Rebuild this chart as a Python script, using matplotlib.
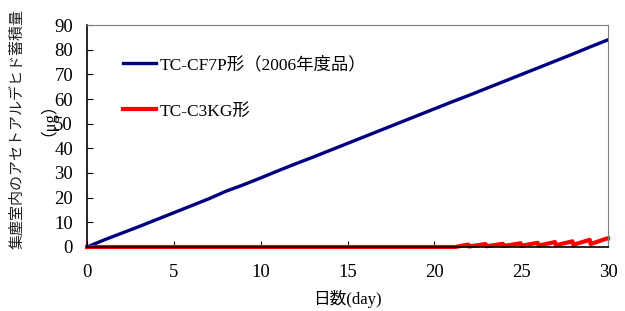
import matplotlib
matplotlib.use("Agg")
import matplotlib.pyplot as plt

plt.rcParams['font.family'] = ['Liberation Serif', 'Noto Sans CJK JP']

# TC-CF7P (2006) accumulated acetaldehyde, read per day
days_a = list(range(0, 31))
vals_a = [0, 2.9, 5.6, 8.3, 11.1, 13.9, 16.7, 19.5, 22.6, 25.2,
          28.0, 30.9, 33.7, 36.4, 39.2, 42.0, 44.8, 47.6, 50.4, 53.2,
          56.0, 58.8, 61.5, 64.3, 67.1, 69.9, 72.7, 75.5, 78.3, 81.2, 84.0]

# TC-C3KG: zero until day 21, then a daily sawtooth
days_b = [0, 21.2, 21.95, 22.0, 22.95, 23.0, 23.95, 24.0, 24.95, 25.0,
          25.95, 26.0, 26.95, 27.0, 27.95, 28.0, 28.95, 29.0, 29.95, 30.0]
vals_b = [0, 0, 1.0, 0.2, 1.2, 0.3, 1.3, 0.4, 1.5, 0.5,
          1.7, 0.6, 2.0, 0.7, 2.3, 0.9, 2.9, 1.2, 3.5, 3.5]

label_a = "TC-CF7P形（2006年度品）"
label_b = "TC-C3KG形"

fig = plt.figure(figsize=(6.25, 3.11), dpi=100)
ax = fig.add_axes([0.1392, 0.2058, 0.8336, 0.7138])

ax.plot(days_a, vals_a, color="#000080", lw=2.4, label=label_a)
ax.plot(days_b, vals_b, color="#ff0000", lw=3.0, label=label_b, clip_on=False)

ax.set_xlim(0, 30)
ax.set_ylim(0, 90)
ax.set_xticks(range(0, 31, 5))
ax.set_yticks(range(0, 91, 10))
ax.tick_params(direction="in", length=4, labelsize=13.5)
ax.tick_params(axis="x", pad=12)
ax.tick_params(axis="y", pad=10)
for s in ["top", "right"]:
    ax.spines[s].set_color("#808080")
for s in ["left", "bottom"]:
    ax.spines[s].set_color("black")
    ax.spines[s].set_linewidth(1.2)

ax.set_xlabel("日数(day)", fontsize=12, labelpad=7)
fig.text(0.027, 0.585, "集塵室内のアセトアルデヒド蓄積量", rotation=90,
         fontsize=10.8, ha="center", va="center", color="#202020")
fig.text(0.062, 0.645, "（μg）", rotation=90,
         fontsize=12, ha="center", va="center")

leg = ax.legend(loc="upper left", bbox_to_anchor=(0.04, 0.93), frameon=False,
                fontsize=12.5, handlelength=1.9, handletextpad=0.2,
                labelspacing=1.75)

fig.savefig("out.png", dpi=100)
